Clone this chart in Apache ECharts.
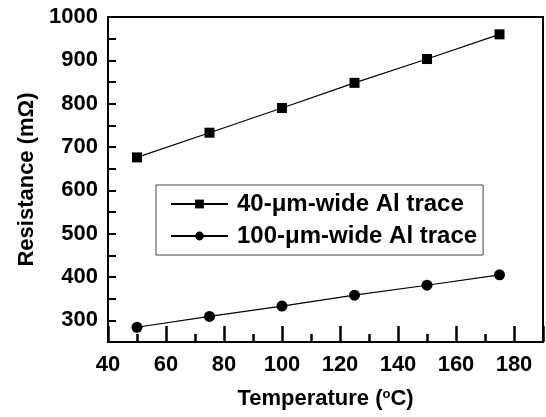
<!DOCTYPE html>
<html><head><meta charset="utf-8">
<script src="https://cdn.jsdelivr.net/npm/echarts@6/dist/echarts.min.js"></script>
<style>html,body{margin:0;padding:0;background:#fff}#c{width:546px;height:417px}</style>
</head><body><div id="c"></div>
<script>
const temperatures = [50, 75, 100, 125, 150, 175];
const trace40 = [676, 733, 790, 848, 903, 960];
const trace100 = [284, 309, 333, 358, 381, 405];
const seriesNames = ['40-\u03bcm-wide Al trace', '100-\u03bcm-wide Al trace'];

const font = 'Arial, "Liberation Sans", sans-serif';
const chart = echarts.init(document.getElementById('c'));
chart.setOption({
  animation: false,
  grid: {left: 108, top: 17, right: 2, bottom: 75},
  legend: {
    orient: 'vertical', left: 156, top: 185,
    backgroundColor: '#fff',
    borderColor: '#444', borderWidth: 1,
    padding: [7, 6, 7, 14],
    itemWidth: 57, itemHeight: 11, itemGap: 8,
    textStyle: {fontFamily: font, fontWeight: 'bold', fontSize: 24, color: '#000', padding: [0, 0, 0, 4]},
    data: seriesNames
  },
  xAxis: [{
    type: 'value', min: 40, max: 190, interval: 20,
    name: '{a|Temperature (}{s|o}{a|C)}', nameLocation: 'middle', nameGap: 46,
    nameTextStyle: {rich: {
      a: {fontFamily: font, fontWeight: 'bold', fontSize: 22, color: '#000'},
      s: {fontFamily: font, fontWeight: 'bold', fontSize: 13, color: '#000', verticalAlign: 'top', padding: [0, 0, 8, 0]}
    }},
    axisLine: {show: true, onZero: false, lineStyle: {color: '#000', width: 2}},
    axisTick: {show: true, inside: true, length: 16, lineStyle: {color: '#000', width: 2.5}},
    splitLine: {show: false},
    axisLabel: {fontFamily: font, fontWeight: 'bold', fontSize: 22, color: '#000', margin: 12,
      formatter: v => (v > 180 ? '' : v)}
  }, {
    type: 'value', position: 'top', min: 40, max: 190,
    axisLine: {show: true, onZero: false, lineStyle: {color: '#000', width: 2}},
    axisTick: {show: false}, axisLabel: {show: false}, splitLine: {show: false}
  }, {
    type: 'value', position: 'bottom', min: 40, max: 190, interval: 10,
    axisLine: {show: false, onZero: false},
    axisTick: {show: true, inside: true, length: 8, lineStyle: {color: '#000', width: 2.5}},
    axisLabel: {show: false}, splitLine: {show: false}
  }],
  yAxis: [{
    type: 'value', min: 250, max: 1000, interval: 50,
    name: 'Resistance (m\u03a9)', nameLocation: 'middle', nameGap: 70,
    nameTextStyle: {fontFamily: font, fontWeight: 'bold', fontSize: 22, color: '#000'},
    axisLine: {show: true, onZero: false, lineStyle: {color: '#000', width: 2}},
    axisTick: {show: true, inside: true, length: 8, lineStyle: {color: '#000', width: 2}},
    splitLine: {show: false},
    axisLabel: {fontFamily: font, fontWeight: 'bold', fontSize: 22, color: '#000', margin: 10,
      formatter: v => (v % 100 === 0 ? v : '')}
  }, {
    type: 'value', position: 'right', min: 250, max: 1000,
    axisLine: {show: true, onZero: false, lineStyle: {color: '#000', width: 2}},
    axisTick: {show: false}, axisLabel: {show: false}, splitLine: {show: false}
  }],
  series: [
    {name: seriesNames[0], type: 'line', data: temperatures.map((t, i) => [t, trace40[i]]),
      symbol: 'rect', symbolSize: 10, itemStyle: {color: '#000'}, lineStyle: {color: '#000', width: 1.2}},
    {name: seriesNames[1], type: 'line', data: temperatures.map((t, i) => [t, trace100[i]]),
      symbol: 'circle', symbolSize: 11, itemStyle: {color: '#000'}, lineStyle: {color: '#000', width: 1.2}}
  ]
});
</script></body></html>
